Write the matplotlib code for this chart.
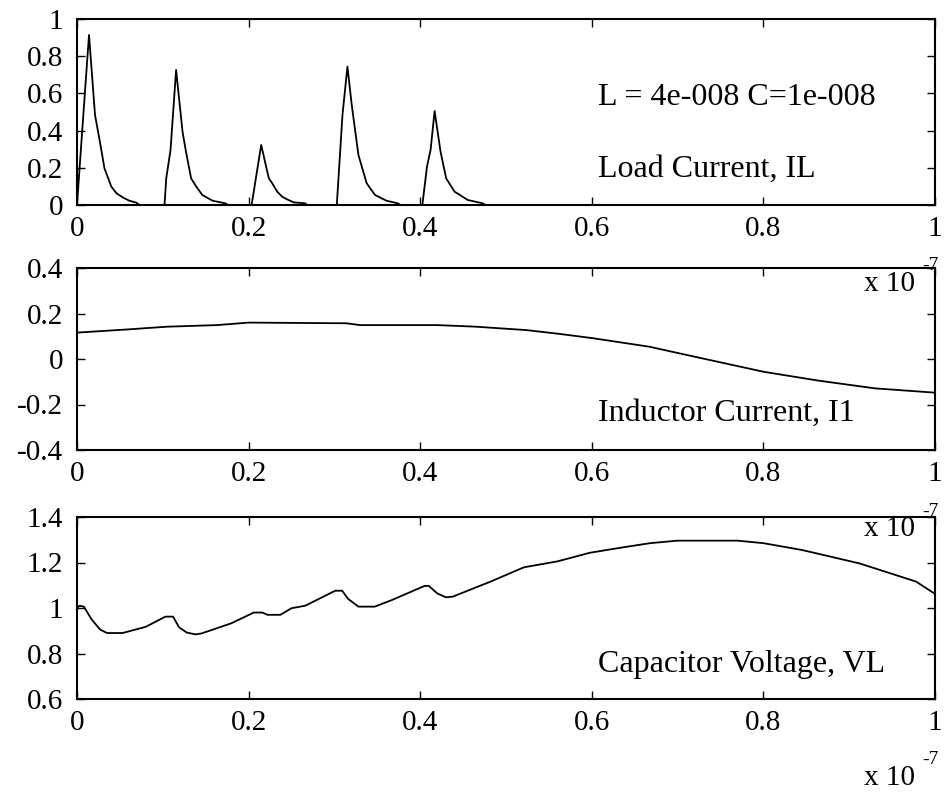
import numpy as np
import matplotlib
matplotlib.use("Agg")
import matplotlib.pyplot as plt
from matplotlib.ticker import FormatStrFormatter

# time axis is in units of 1e-7 s
t_load = [0.0, 0.007, 0.014, 0.021, 0.027, 0.032, 0.040, 0.046, 0.054, 0.061, 0.069, 0.073,
          0.102, 0.104, 0.109, 0.1155, 0.123, 0.127, 0.133, 0.139, 0.146, 0.158, 0.173, 0.176,
          0.2035, 0.2147, 0.220, 0.2236, 0.2275, 0.2333, 0.239, 0.245, 0.2526, 0.266, 0.268,
          0.3028, 0.3094, 0.3152, 0.3202, 0.328, 0.3376, 0.3473, 0.3607, 0.374, 0.377,
          0.4025, 0.4079, 0.4121, 0.4168, 0.4237, 0.4303, 0.440, 0.4554, 0.4728, 0.476, 1.0]
i_load = [0.0, 0.46, 0.914, 0.484, 0.332, 0.197, 0.099, 0.063, 0.039, 0.023, 0.013, 0.0,
          0.0, 0.143, 0.296, 0.726, 0.394, 0.287, 0.143, 0.099, 0.054, 0.023, 0.009, 0.0,
          0.0, 0.323, 0.215, 0.143, 0.117, 0.072, 0.045, 0.030, 0.014, 0.009, 0.0,
          0.0, 0.484, 0.744, 0.538, 0.269, 0.117, 0.054, 0.023, 0.009, 0.0,
          0.0, 0.206, 0.296, 0.505, 0.287, 0.143, 0.072, 0.027, 0.009, 0.0, 0.0]

t_ind = [0.0, 0.059, 0.105, 0.163, 0.2, 0.314, 0.33, 0.42, 0.465, 0.524, 0.563, 0.602,
         0.667, 0.72, 0.8, 0.864, 0.93, 1.0]
i_ind = [0.116, 0.13, 0.142, 0.149, 0.16, 0.157, 0.149, 0.149, 0.142, 0.127, 0.11, 0.091,
         0.054, 0.01, -0.056, -0.095, -0.129, -0.148]

t_cap = [0.0, 0.003, 0.008, 0.017, 0.027, 0.035, 0.053, 0.08, 0.103, 0.112, 0.119, 0.128,
         0.138, 0.145, 0.18, 0.206, 0.216, 0.222, 0.237, 0.25, 0.266, 0.301, 0.309, 0.316,
         0.328, 0.347, 0.367, 0.405, 0.41, 0.42, 0.43, 0.438, 0.482, 0.521, 0.56, 0.598,
         0.637, 0.668, 0.7, 0.77, 0.8, 0.845, 0.912, 0.95, 0.978, 1.0]
v_cap = [1.0, 1.01, 1.006, 0.95, 0.905, 0.89, 0.89, 0.917, 0.962, 0.962, 0.915, 0.892,
         0.884, 0.888, 0.933, 0.98, 0.98, 0.97, 0.97, 0.999, 1.01, 1.076, 1.076, 1.04,
         1.006, 1.006, 1.035, 1.097, 1.097, 1.064, 1.047, 1.05, 1.116, 1.179, 1.205, 1.243,
         1.267, 1.285, 1.296, 1.296, 1.285, 1.255, 1.196, 1.15, 1.116, 1.062]

panels = [
    (t_load, i_load, (0, 1), np.arange(0, 1.01, 0.2), "Load Current, IL", 0.19),
    (t_ind, i_ind, (-0.4, 0.4), np.arange(-0.4, 0.41, 0.2), "Inductor Current, I1", -0.237),
    (t_cap, v_cap, (0.6, 1.4), np.arange(0.6, 1.41, 0.2), "Capacitor Voltage, VL", 0.75),
]

plt.rcParams['font.family'] = ['Liberation Serif', 'DejaVu Serif']
plt.rcParams['font.size'] = 21
plt.rcParams['axes.unicode_minus'] = False

fig = plt.figure(figsize=(9.45, 7.97), dpi=100)
W, H = 945.0, 797.0
LEFT, RIGHT = 77, 935
boxes = [(19, 205), (268, 450), (517, 699)]

for (t, y, ylim, yticks, label, label_y), (top, bot) in zip(panels, boxes):
    ax = fig.add_axes([LEFT / W, 1 - bot / H, (RIGHT - LEFT) / W, (bot - top) / H])
    ax.plot(t, y, color='black', lw=1.3)
    ax.set_xlim(0, 1)
    ax.set_ylim(*ylim)
    ax.set_xticks(np.arange(0, 1.01, 0.2))
    ax.set_yticks(yticks)
    ax.xaxis.set_major_formatter(FormatStrFormatter('%g'))
    ax.yaxis.set_major_formatter(FormatStrFormatter('%g'))
    ax.tick_params(direction='in', length=6, width=1, top=True, right=True)
    ax.tick_params(axis='x', pad=8)
    ax.tick_params(axis='y', pad=10)
    for s in ax.spines.values():
        s.set_linewidth(1.5)
    ax.text(0.607, label_y, label, ha='left', va='center', fontsize=23)
    if top == 19:
        ax.text(0.607, 0.58, "L = 4e-008 C=1e-008", ha='left', va='center', fontsize=23)

    # matlab style exponent label, drawn on the figure so the next axes won't hide it
    fig.text(915 / W, 1 - (bot + 79) / H, "x 10", ha='right', va='center', zorder=5)
    fig.text(922 / W, 1 - (bot + 61) / H, "-7", ha='left', va='center',
             fontsize=14, zorder=5)

fig.savefig("out.png", dpi=100)
